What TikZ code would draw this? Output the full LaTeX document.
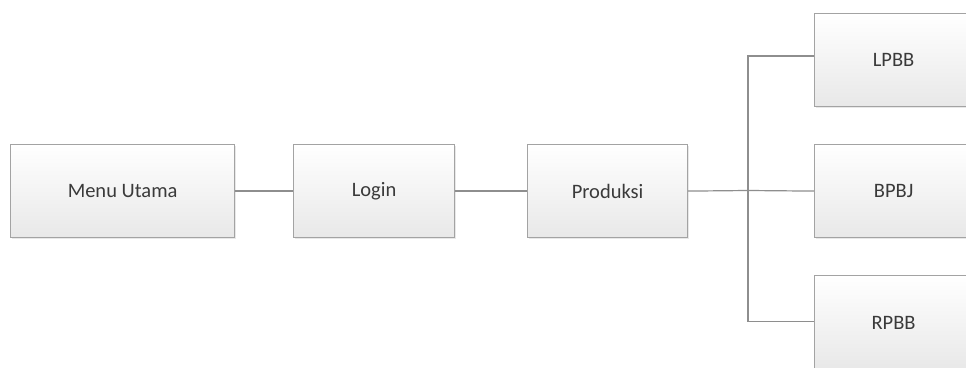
\documentclass[tikz,border=0pt]{standalone}
\usepackage{fontspec}
\setmainfont{Carlito}
\usetikzlibrary{shadows}
\definecolor{boxline}{HTML}{A3A3A3}
\definecolor{conn}{HTML}{8E8E8E}
\definecolor{txt}{HTML}{3A3A3A}
\tikzset{
  mbox/.style={draw=boxline, line width=1.2pt, top color=white, bottom color=black!9,
    drop shadow={opacity=0.18, shadow xshift=1.2pt, shadow yshift=-1.5pt},
    inner sep=0pt, text=txt, font=\fontsize{20.5}{24}\selectfont, anchor=north west},
  link/.style={draw=conn, line width=1.2pt}
}
\begin{document}
\begin{tikzpicture}[x=1pt,y=1pt]
\useasboundingbox (0,0) rectangle (966,367);
\clip (0,0) rectangle (966,367);
\fill[white] (0,0) rectangle (966,367);
% pixel coordinates: y = 367 - py
\node[mbox, minimum width=224pt, minimum height=93pt] (menu) at (10,223) {Menu Utama};
\node[mbox, minimum width=161pt, minimum height=93pt] (login) at (293,223) {Login};
\node[mbox, minimum width=160pt, minimum height=93pt] (prod) at (527,223) {Produksi};
\node[mbox, minimum width=158pt, minimum height=93pt] (lpbb) at (814,354) {LPBB};
\node[mbox, minimum width=158pt, minimum height=93pt] (bpbj) at (814,223) {BPBJ};
\node[mbox, minimum width=158pt, minimum height=94pt] (rpbb) at (814,92) {RPBB};
\coordinate (jn) at (748,176.5);
\draw[link] (menu.east) -- (login.west);
\draw[link] (login.east) -- (prod.west);
\draw[link] (prod.east) -- (jn) -- (bpbj.west);
\draw[link] ([yshift=4pt]lpbb.west) -| (jn) |- ([yshift=1pt]rpbb.west);
\end{tikzpicture}
\end{document}
